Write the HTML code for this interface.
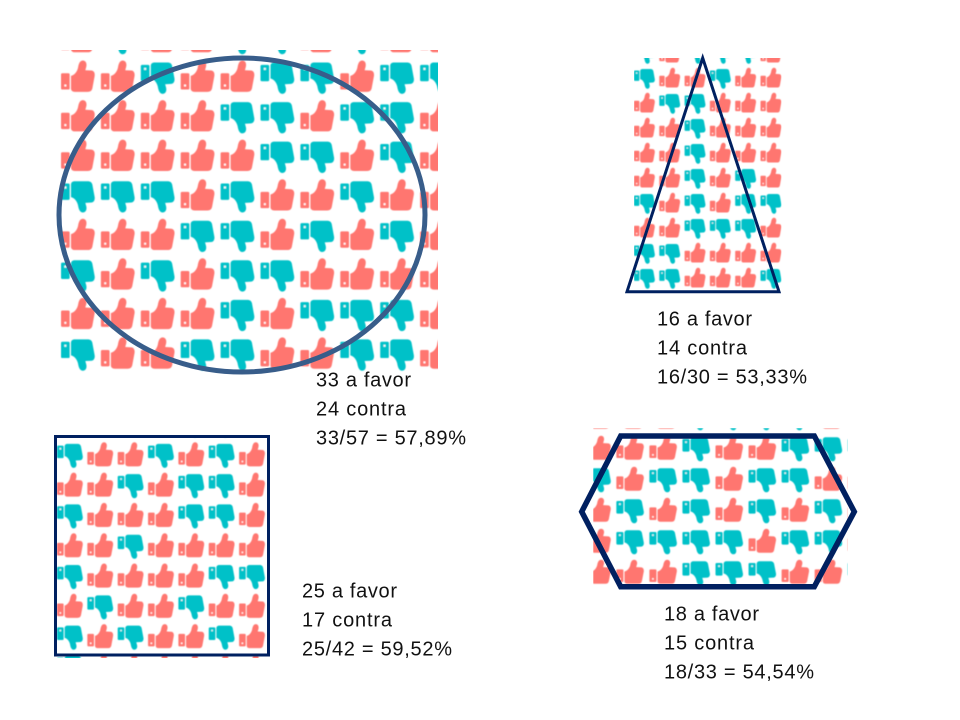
<!DOCTYPE html>
<html lang="pt">
<head>
<meta charset="utf-8">
<title>Votos a favor e contra</title>
<style>
html,body{margin:0;padding:0;background:#fff}
#stage{display:block;width:960px;height:720px;background:#fff}
.lbl{font-family:"Liberation Sans",Arial,sans-serif;font-size:20px;fill:#111}
</style>
</head>
<body>
<svg id="stage" xmlns="http://www.w3.org/2000/svg" width="960" height="720" viewBox="0 0 960 720">
  <defs>
    <filter id="soft" x="-5%" y="-5%" width="110%" height="110%"><feGaussianBlur stdDeviation="0.6"/></filter>
    <symbol id="thumb-up" viewBox="0 0 102 100" preserveAspectRatio="none" overflow="visible">
      <rect x="0" y="38" width="26" height="49" rx="4" fill="#ff766f"/>
      <rect x="10" y="72" width="6" height="6" fill="#fff"/>
      <path fill="#ff766f" d="M30,46 C40,44 48,34 51,22 C53,10 56,1 65,0 C74,0 78,8 76,18 L73,29 L92,30 C99,31 102,38 101,46 L94,84 C92,91 88,94 80,94 L42,94 C34,94 30,90 30,84 Z"/>
    </symbol>
    <symbol id="thumb-down" viewBox="0 0 102 100" preserveAspectRatio="none" overflow="visible">
      <g transform="translate(0,100) scale(1,-1)">
        <rect x="0" y="38" width="26" height="49" rx="4" fill="#00c1c8"/>
        <rect x="10" y="72" width="6" height="6" fill="#fff"/>
        <path fill="#00c1c8" d="M30,46 C40,44 48,34 51,22 C53,10 56,1 65,0 C74,0 78,8 76,18 L73,29 L92,30 C99,31 102,38 101,46 L94,84 C92,91 88,94 80,94 L42,94 C34,94 30,90 30,84 Z"/>
      </g>
    </symbol>
  </defs>
  <g id="panels"></g>
  <g id="shapes">
    <ellipse cx="242" cy="215" rx="183" ry="157" fill="none" stroke="#385d8a" stroke-width="5"/>
    <polygon points="702.7,58 627,291.7 779,291.7" fill="none" stroke="#002060" stroke-width="3"/>
    <rect x="55.5" y="436.5" width="213" height="218.5" fill="none" stroke="#002060" stroke-width="3"/>
    <polygon points="581.7,511.7 620.7,436 814.3,436 854.3,511.7 814.3,586.7 620.7,586.7" fill="none" stroke="#002060" stroke-width="5.5"/>
  </g>
  <g id="labels"></g>
</svg>
<script>
// Votes per cell: U = a favor, D = contra
const circleRows = ['UDUUDDUDUU','UUDUUDDUDD','UUUUDDUDDU','UUUUUDDUDU','DDDUDUUDUU','UUUDDUDUDU','DUDUDDUUUU','UUUUDUDDDU','DUUDDUUDDU'];
const triangleRows = ['DUDDDU','DUUDUU','UDDUUU','UUDUUU','UUDUUU','UUDUDU','DUDUDD','UUDDDU','DDUUUU','DDUUUD'];
const squareRows = ['UUUUDDU','DUUDUDU','UUDUDDU','DUUUDDU','UUDUUUU','DUUUUDD','UDUUDUU','DUDUUDU','DUUUUUU'];
const hexagonRows = ['UUUDDDDU','UUUDUUDDD','DUDDUDDUU','UDUDUDUDU','UDDDDUDDU','UUUDDDUUD'];

// Printed vote counts
const favorCounts = [33, 16, 25, 18];
const contraCounts = [24, 14, 17, 15];

const SVGNS = 'http://www.w3.org/2000/svg';
const panelsLayer = document.getElementById('panels');
const labelsLayer = document.getElementById('labels');

function drawPanel(name, rows, clip, grid) {
  const cp = document.createElementNS(SVGNS, 'clipPath');
  cp.setAttribute('id', name + '-clip');
  const r = document.createElementNS(SVGNS, 'rect');
  r.setAttribute('x', clip.x); r.setAttribute('y', clip.y);
  r.setAttribute('width', clip.w); r.setAttribute('height', clip.h);
  cp.appendChild(r);
  panelsLayer.appendChild(cp);
  const outer = document.createElementNS(SVGNS, 'g');
  outer.setAttribute('clip-path', 'url(#' + name + '-clip)');
  
  
  const inner = document.createElementNS(SVGNS, 'g');
  inner.setAttribute('filter', 'url(#soft)');
  rows.forEach(function (row, i) {
    row.split('').forEach(function (v, j) {
      const el = document.createElementNS(SVGNS, 'use');
      el.setAttribute('href', v === 'U' ? '#thumb-up' : '#thumb-down');
      el.setAttribute('x', grid.x0 + j * grid.dx);
      el.setAttribute('y', grid.y0 + i * grid.dy);
      el.setAttribute('width', grid.w);
      el.setAttribute('height', grid.h);
      
      
      inner.appendChild(el);
    });
  });
  outer.appendChild(inner);
  panelsLayer.appendChild(outer);
}

function truncPct(f, c) {
  const t = Math.floor(f / (f + c) * 10000 + 1e-9) / 100;
  return t.toFixed(2).replace('.', ',') + '%';
}

function drawLabel(idx, x, y) {
  const f = favorCounts[idx], c = contraCounts[idx];
  const lines = [f + ' a favor', c + ' contra', f + '/' + (f + c) + ' = ' + truncPct(f, c)];
  const fit = [95, 90, 150];
  lines.forEach(function (txt, k) {
    const t = document.createElementNS(SVGNS, 'text');
    t.setAttribute('x', x);
    t.setAttribute('y', y + k * 29);
    t.setAttribute('class', 'lbl');
    t.setAttribute('textLength', fit[k]);
    t.setAttribute('lengthAdjust', 'spacing');
    
    
    t.textContent = txt;
    labelsLayer.appendChild(t);
  });
}

drawPanel('circle-thumb-grid', circleRows, {x:60.5, y:50, w:377.5, h:322.5}, {x0:61, y0:21, dx:39.9, dy:39.55, w:34, h:33.3});
drawPanel('triangle-thumb-grid', triangleRows, {x:634, y:58, w:147.5, h:234}, {x0:634, y0:42.8, dx:25.3, dy:25, w:21, h:21});
drawPanel('square-thumb-grid', squareRows, {x:57, y:435.5, w:210, h:222.5}, {x0:57, y0:412, dx:30.35, dy:30.3, w:26, h:25.6});
drawPanel('hexagon-thumb-grid', hexagonRows, {x:593.3, y:428.3, w:254.4, h:160}, {x0:583.3, y0:404.7, dx:33.05, dy:31, w:27.7, h:25.6});

drawLabel(0, 316, 386.5);
drawLabel(1, 657, 325.5);
drawLabel(2, 302, 597.5);
drawLabel(3, 664, 620.5);
</script>
</body>
</html>
